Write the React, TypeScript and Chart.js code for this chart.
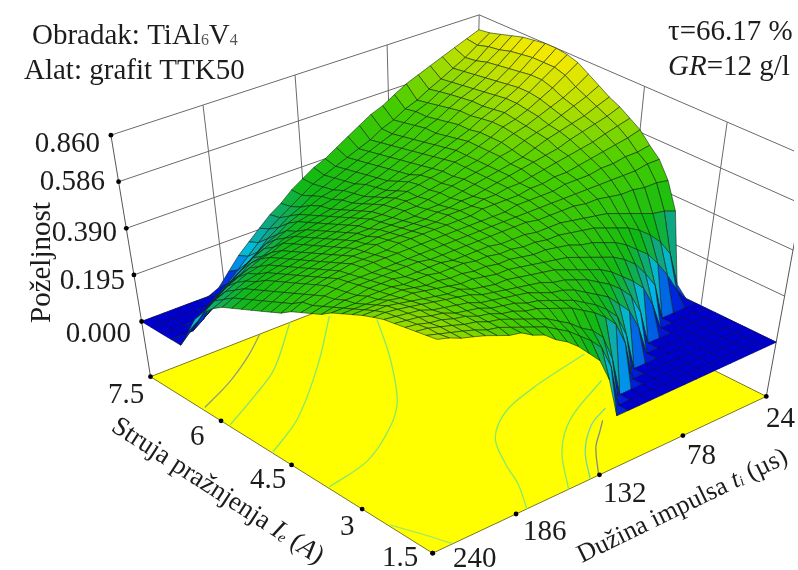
import React, { useEffect, useRef } from "react";
import { Chart, registerables } from "chart.js";

Chart.register(...registerables);

const zTicks = [0, 0.195, 0.39, 0.586, 0.86];
const ieTicks = [7.5, 6, 4.5, 3, 1.5];
const tiTicks = [240, 186, 132, 78, 24];

// desirability x 100; rows: Ie 1.5 -> 7.5 (step 0.2), columns: ti 240 -> 24 (step 7.2)
const desirabilityRows: number[][] = [
  [67,65,62,60,58,56,54,53,50,48,44,41,37,32,27,17,0,0,0,0,0,0,0,0,0,0,0,0,0,0,0],
  [66,64,62,60,58,56,55,53,51,49,47,44,41,37,33,28,18,0,0,0,0,0,0,0,0,0,0,0,0,0,0],
  [65,64,62,60,58,57,55,54,52,50,48,46,43,40,36,33,28,17,0,0,0,0,0,0,0,0,0,0,0,0,0],
  [64,63,61,60,58,57,55,54,52,51,49,48,46,44,42,39,36,32,27,17,0,0,0,0,0,0,0,0,0,0,0],
  [63,62,61,59,58,56,55,54,52,51,50,48,47,45,43,41,38,35,31,26,16,0,0,0,0,0,0,0,0,0,0],
  [62,61,60,59,57,56,55,54,52,51,50,49,48,46,44,43,41,38,35,32,27,22,13,0,0,0,0,0,0,0,0],
  [60,60,59,58,57,56,55,54,53,51,50,49,48,47,46,44,43,41,39,36,33,29,24,15,0,0,0,0,0,0,0],
  [58,58,58,57,56,55,54,53,53,51,50,49,49,48,47,46,45,43,41,39,37,34,30,26,21,12,0,0,0,0,0],
  [56,56,56,56,55,55,54,53,52,51,51,50,49,49,48,47,46,45,44,42,40,38,36,33,29,23,16,0,0,0,0],
  [54,54,54,54,54,54,53,52,52,51,51,50,50,49,49,48,47,47,46,45,43,42,40,38,35,31,27,21,14,6,0],
  [52,52,52,53,53,53,52,52,52,51,51,51,50,50,49,49,48,48,47,47,46,45,44,42,40,38,35,31,26,19,4],
  [49,50,51,51,52,52,52,51,51,51,51,50,50,50,50,49,49,49,48,48,48,47,46,45,44,42,40,38,36,35,33],
  [47,48,49,50,51,51,51,51,51,51,50,50,50,50,50,50,50,50,50,49,49,49,49,48,48,47,46,46,45,45,44],
  [45,46,48,49,50,50,50,50,50,50,50,50,50,50,50,50,50,50,50,50,50,50,50,50,50,50,50,50,50,51,51],
  [43,45,46,48,49,49,50,50,50,50,50,50,50,50,50,50,50,50,50,51,51,51,51,52,52,52,53,53,54,54,55],
  [40,42,44,46,47,48,49,49,49,49,50,50,50,50,50,50,50,51,51,51,51,52,52,53,53,54,55,56,57,58,60],
  [38,40,42,44,45,46,47,48,48,49,49,49,49,49,49,50,50,50,51,51,52,52,53,54,55,56,57,58,60,62,64],
  [36,38,40,42,43,44,45,46,47,47,48,48,48,48,48,49,49,50,50,51,52,53,54,55,56,57,59,61,63,65,68],
  [34,36,38,40,41,42,43,44,45,46,46,47,47,47,47,48,48,49,50,51,52,53,54,55,57,59,61,63,65,68,71],
  [32,34,36,38,39,40,41,42,43,44,45,45,46,46,47,47,48,49,50,51,52,53,55,56,58,60,62,65,68,71,75],
  [30,32,34,36,37,38,39,40,41,42,43,44,45,45,46,47,47,48,49,50,52,53,55,57,59,61,64,67,70,74,79],
  [28,30,32,33,35,36,37,38,39,40,41,42,43,44,45,46,47,48,49,50,52,53,55,57,60,62,65,69,73,78,83],
  [25,27,29,31,32,34,35,36,37,38,39,40,41,42,43,44,45,47,48,49,51,53,55,57,60,63,66,70,75,80,85],
  [21,24,26,28,30,31,33,34,35,36,37,38,39,40,41,42,43,45,46,48,50,52,54,56,59,62,66,70,75,80,86],
  [16,18,21,24,26,28,30,31,33,34,35,36,37,38,39,40,42,43,45,47,49,51,53,56,58,61,65,69,74,80,86],
  [8,11,15,18,21,23,26,27,29,31,32,34,35,36,38,39,41,42,44,46,48,50,52,55,58,61,64,68,73,79,85],
  [0,4,8,12,15,18,21,24,26,28,30,32,33,35,36,38,39,41,43,45,47,49,52,54,57,60,63,67,72,78,84],
  [0,0,0,3,7,11,15,18,21,24,26,29,31,33,35,36,38,40,42,44,46,48,51,53,56,59,62,66,71,76,82],
  [0,0,0,0,0,3,7,11,15,18,22,25,28,30,33,35,37,39,41,43,45,47,50,53,55,58,61,65,69,75,80],
  [0,0,0,0,0,0,3,6,10,14,18,22,25,28,31,34,36,38,40,42,44,47,49,52,54,57,60,64,68,73,78],
  [0,0,0,0,0,0,0,2,7,12,16,20,24,27,31,34,37,39,42,45,48,51,53,56,59,62,65,68,71,74,77],
];

// Contours on the floor, as [Ie, ti] pairs
const contourGrayLeft = [[6.41,238],[6.74,211],[7.12,187],[7.5,167]];
const contourLeft2 = [[5.84,239],[6.24,210],[6.63,185],[7.5,147]];
const contourLeft3 = [[4.91,240],[5.4,208],[6.32,166],[7.3,127]];
const contourMiddle = [[3.73,239],[3.92,208],[4.39,179],[4.87,159],[5.84,133],[6.81,111]];
const contourCorner = [[2.44,239],[2,233],[1.51,227]];
const contourRight1 = [[1.5,179],[2.07,167],[2.59,159],[3.23,146],[3.68,125],[3.92,100],[4.07,76],[4.17,58]];
const contourRight2 = [[1.5,152],[2.35,130],[2.93,106],[3.44,70]];
const contourRight3 = [[1.5,138],[2.12,122],[2.6,103],[2.82,87]];
const contourGrayRight = [[1.52,132],[2.09,116],[2.39,104],[2.59,96]];

const FONT = '"Liberation Serif", "Times New Roman", serif';
const IE_MIN = 1.5, IE_MAX = 7.5, TI_MAX = 240, TI_MIN = 24;

type P = { x: number; y: number };
type Quad = { F: P; L: P; R: P; B: P };
const floorPlane: Quad = { F: { x: 433, y: 557 }, L: { x: 148, y: 378 }, R: { x: 770, y: 398 }, B: { x: 475, y: 250 } };
const zeroPlane: Quad = { F: { x: 435, y: 503 }, L: { x: 139, y: 322 }, R: { x: 780, y: 343 }, B: { x: 476, y: 195 } };
const topPlane: Quad = { F: { x: 438, y: 306 }, L: { x: 108, y: 133 }, R: { x: 814, y: 156 }, B: { x: 480, y: 11 } };

const bilinear = (q: Quad, a: number, b: number): P => ({
  x: q.F.x * (1 - a) * (1 - b) + q.L.x * a * (1 - b) + q.R.x * (1 - a) * b + q.B.x * a * b,
  y: q.F.y * (1 - a) * (1 - b) + q.L.y * a * (1 - b) + q.R.y * (1 - a) * b + q.B.y * a * b,
});
const aOf = (ie: number) => (ie - IE_MIN) / (IE_MAX - IE_MIN);
const bOf = (ti: number) => (TI_MAX - ti) / (TI_MAX - TI_MIN);

// axis height (0..1) of a desirability: tick labels sit at equal distances
const heightOf = (z: number) => {
  for (let k = 0; k < zTicks.length - 1; k++) {
    if (z <= zTicks[k + 1]) return (k + (z - zTicks[k]) / (zTicks[k + 1] - zTicks[k])) / (zTicks.length - 1);
  }
  return 1;
};
const at3d = (a: number, b: number, h: number): P => {
  const p = bilinear(zeroPlane, a, b), t = bilinear(topPlane, a, b);
  return { x: p.x + (t.x - p.x) * h, y: p.y + (t.y - p.y) * h };
};

const colorStops: [number, number[]][] = [
  [0, [0, 0, 205]],
  [0.07, [0, 40, 225]],
  [0.17, [0, 190, 235]],
  [0.28, [15, 165, 140]],
  [0.42, [15, 185, 20]],
  [0.68, [70, 205, 0]],
  [0.85, [190, 225, 0]],
  [1, [255, 235, 0]],
];
const colorOf = (h: number) => {
  for (let k = 0; k < colorStops.length - 1; k++) {
    const [h0, c0] = colorStops[k], [h1, c1] = colorStops[k + 1];
    if (h <= h1) {
      const t = (h - h0) / (h1 - h0);
      return `rgb(${c0.map((v, n) => Math.round(v + (c1[n] - v) * t)).join(",")})`;
    }
  }
  return "rgb(255,235,0)";
};

const lineSet = (data: P[], color: string, width: number, tension = 0) => ({
  type: "scatter" as const, data, showLine: true, fill: false, borderColor: color, borderWidth: width,
  pointRadius: 0, tension, parsing: false, normalized: true,
});
const polySet = (data: P[], fill: string, stroke: string, width: number) => ({
  ...lineSet([...data, data[0]], stroke, width), fill: "shape", backgroundColor: fill,
});

function buildDatasets() {
  const layers: any[] = []; // painter's order
  const gray = "#6a6a6a";
  // walls
  zTicks.forEach((_, k) => {
    const h = k / (zTicks.length - 1);
    layers.push(lineSet([at3d(1, 0, h), at3d(1, 1, h), at3d(0, 1, h)], gray, 1));
  });
  tiTicks.slice(1, -1).forEach((t) => layers.push(lineSet([at3d(1, bOf(t), 0), at3d(1, bOf(t), 1)], gray, 1)));
  ieTicks.slice(1, -1).forEach((v) => layers.push(lineSet([at3d(aOf(v), 1, 0), at3d(aOf(v), 1, 1)], gray, 1)));
  layers.push(lineSet([bilinear(floorPlane, 1, 0), at3d(1, 0, 0), at3d(1, 0, 1)], "#555", 1));
  layers.push(lineSet([bilinear(floorPlane, 0, 1), at3d(0, 1, 0), at3d(0, 1, 1)], "#555", 1));
  layers.push(lineSet([at3d(1, 1, 0), at3d(1, 1, 1)], gray, 1));
  // floor
  layers.push(polySet([bilinear(floorPlane, 0, 0), bilinear(floorPlane, 1, 0), bilinear(floorPlane, 1, 1), bilinear(floorPlane, 0, 1)], "#ffff00", "#77772a", 1));
  const contours: [number[][], string][] = [
    [contourGrayLeft, "#8f9f80"], [contourLeft2, "#86e070"], [contourLeft3, "#86e86a"], [contourMiddle, "#86e86a"],
    [contourCorner, "#a8e860"], [contourRight1, "#86e86a"], [contourRight2, "#86e86a"], [contourRight3, "#70d8a0"],
    [contourGrayRight, "#7f8f80"],
  ];
  contours.forEach(([pts, c]) =>
    layers.push(lineSet(pts.map(([ie, ti]) => bilinear(floorPlane, aOf(ie), bOf(ti))), c, 1.3, 0.35))
  );
  // surface, far cells first
  const nA = desirabilityRows.length - 1, nB = desirabilityRows[0].length - 1;
  const h = (i: number, j: number) => heightOf((desirabilityRows[i][j] ?? 0) / 100);
  const cells: [number, number][] = [];
  for (let i = 0; i < nA; i++) for (let j = 0; j < nB; j++) cells.push([i, j]);
  cells.sort((p, q) => q[0] + q[1] - (p[0] + p[1]));
  cells.forEach(([i, j]) => {
    const mean = (h(i, j) + h(i + 1, j) + h(i, j + 1) + h(i + 1, j + 1)) / 4;
    const pt = (ii: number, jj: number) => at3d(ii / nA, jj / nB, h(ii, jj));
    layers.push(polySet([pt(i, j), pt(i + 1, j), pt(i + 1, j + 1), pt(i, j + 1)], colorOf(mean), mean === 0 ? "#00007a" : "rgba(10,30,10,0.8)", 0.7));
  });
  // tick dots
  const dots: P[] = [
    ...ieTicks.map((v) => bilinear(floorPlane, aOf(v), 0)),
    ...tiTicks.map((t) => bilinear(floorPlane, 0, bOf(t))),
    ...zTicks.map((_, k) => at3d(1, 0, k / (zTicks.length - 1))),
  ];
  layers.push({ type: "scatter" as const, data: dots, showLine: false, pointRadius: 2.4, backgroundColor: "#000", borderWidth: 0, parsing: false });
  return layers.reverse();
}

type Run = { t: string; italic?: boolean; sub?: boolean; color?: string };
const drawRuns = (ctx: CanvasRenderingContext2D, x: number, y: number, size: number, angle: number, runs: Run[]) => {
  ctx.save();
  ctx.translate(x, y);
  ctx.rotate(angle);
  ctx.textAlign = "left";
  ctx.textBaseline = "alphabetic";
  let cx = 0;
  runs.forEach((r) => {
    const s = r.sub ? size * 0.55 : size;
    ctx.font = `${r.italic ? "italic " : ""}${s}px ${FONT}`;
    ctx.fillStyle = r.color ?? "#1c1c1c";
    ctx.fillText(r.t, cx, r.sub ? size * 0.04 : 0);
    cx += ctx.measureText(r.t).width;
  });
  ctx.restore();
};

const textPlugin = {
  id: "labels",
  afterDraw(chart: any) {
    const ctx: CanvasRenderingContext2D = chart.ctx;
    const rad = Math.PI / 180;
    drawRuns(ctx, 32, 44, 29, 0, [{ t: "Obradak: TiAl" }, { t: "6", sub: true, color: "#555" }, { t: "V" }, { t: "4", sub: true, color: "#555" }]);
    drawRuns(ctx, 24, 79, 29, 0, [{ t: "Alat: grafit TTK50" }]);
    drawRuns(ctx, 668, 40, 29, 0, [{ t: "τ=66.17 %" }]);
    drawRuns(ctx, 668, 75, 29, 0, [{ t: "GR", italic: true }, { t: "=12 g/l" }]);
    const zLabels = zTicks.map((v) => v.toFixed(3));
    const zRight = [131, 125, 117, 105, 100], zBase = [342, 289, 241, 190, 152];
    zLabels.forEach((s, k) => {
      ctx.font = `29px ${FONT}`;
      drawRuns(ctx, zRight[k] - ctx.measureText(s).width, zBase[k], 29, 0, [{ t: s }]);
    });
    const ieX = [108, 190, 250, 340, 382], ieY = [403, 445, 488, 535, 566];
    ieTicks.forEach((v, k) => drawRuns(ctx, ieX[k], ieY[k], 29, 0, [{ t: Number.isInteger(v) ? String(v) : v.toFixed(1) }]));
    const tiX = [453, 523, 603, 687, 766], tiY = [567, 540, 502, 464, 427];
    tiTicks.forEach((v, k) => drawRuns(ctx, tiX[k], tiY[k], 29, 0, [{ t: String(v) }]));
    drawRuns(ctx, 50, 323, 29, -90 * rad, [{ t: "Poželjnost" }]);
    drawRuns(ctx, 110, 430, 27, 33 * rad, [{ t: "Struja pražnjenja " }, { t: "I", italic: true }, { t: "e", italic: true, sub: true }, { t: " (" }, { t: "A", italic: true }, { t: ")" }]);
    drawRuns(ctx, 582, 563, 26, -26 * rad, [{ t: "Dužina impulsa " }, { t: "t", italic: true }, { t: "i", italic: true, sub: true }, { t: " (µs)" }]);
  },
};

export default function App() {
  const ref = useRef<HTMLCanvasElement>(null);
  useEffect(() => {
    const chart = new Chart(ref.current as HTMLCanvasElement, {
      type: "scatter",
      data: { datasets: buildDatasets() },
      plugins: [textPlugin],
      options: {
        animation: false,
        responsive: false,
        layout: { padding: 0 },
        plugins: { legend: { display: false }, tooltip: { enabled: false }, filler: { propagate: false } },
        events: [],
        scales: {
          x: { type: "linear", min: 0, max: 798, display: false },
          y: { type: "linear", min: 0, max: 570, reverse: true, display: false },
        },
      } as any,
    });
    return () => chart.destroy();
  }, []);
  return (
    <div style={{ position: "fixed", left: 0, top: 0, width: 798, height: 570, background: "#fff" }}>
      <canvas ref={ref} width={798} height={570} style={{ display: "block" }} />
    </div>
  );
}
